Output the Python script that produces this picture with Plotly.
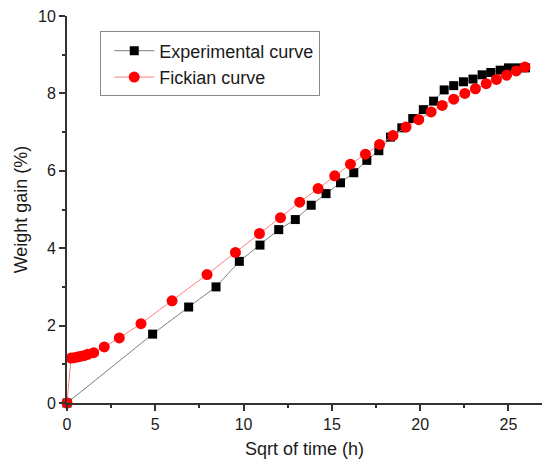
import plotly.graph_objects as go

# Experimental weight-gain data
exp_x = [0, 4.85, 6.89, 8.44, 9.76, 10.93, 11.99, 12.93, 13.83, 14.67, 15.49, 16.24,
         16.98, 17.66, 18.32, 18.96, 19.58, 20.18, 20.76, 21.36, 21.9, 22.45, 22.99,
         23.51, 24.0, 24.53, 25.0, 25.5, 25.97]
exp_y = [0, 1.78, 2.48, 3.0, 3.66, 4.08, 4.48, 4.74, 5.11, 5.41, 5.69, 5.95,
         6.27, 6.52, 6.87, 7.11, 7.35, 7.58, 7.80, 8.09, 8.20, 8.30, 8.37,
         8.48, 8.54, 8.60, 8.66, 8.66, 8.66]

# Fickian model curve
fick_x = [0, 0.23, 0.41, 0.6, 0.79, 1.0, 1.17, 1.51, 2.11, 2.96, 4.19, 5.95, 7.93,
          9.54, 10.9, 12.09, 13.18, 14.22, 15.16, 16.05, 16.9, 17.7, 18.46, 19.2,
          19.92, 20.62, 21.25, 21.9, 22.53, 23.13, 23.74, 24.32, 24.89, 25.44, 25.93]
fick_y = [0, 1.16, 1.17, 1.19, 1.21, 1.23, 1.26, 1.30, 1.45, 1.68, 2.05, 2.64, 3.32,
          3.89, 4.38, 4.79, 5.19, 5.54, 5.87, 6.17, 6.43, 6.68, 6.91, 7.13,
          7.32, 7.52, 7.69, 7.85, 8.0, 8.12, 8.25, 8.36, 8.47, 8.58, 8.68]

FONT = "Liberation Sans, Arial, sans-serif"
TEXT = "#1a1a1a"
AXIS = "#333333"

fig = go.Figure()
fig.add_trace(go.Scatter(
    x=exp_x, y=exp_y, mode="lines+markers", name="Experimental curve",
    line=dict(color="#7f7f7f", width=1),
    marker=dict(symbol="square", size=9, color="black"),
    cliponaxis=False,
))
fig.add_trace(go.Scatter(
    x=fick_x, y=fick_y, mode="lines+markers", name="Fickian curve",
    line=dict(color="#ff8080", width=1),
    marker=dict(symbol="circle", size=11, color="red"),
    cliponaxis=False,
))

axis_common = dict(
    showgrid=False, zeroline=False, showline=True, linecolor=AXIS, linewidth=2,
    ticks="outside", ticklen=6, tickwidth=2, tickcolor=AXIS,
    tickfont=dict(family=FONT, size=16, color=TEXT),
)

fig.update_xaxes(
    range=[0, 26.9], tickvals=[0, 5, 10, 15, 20, 25],
    minor=dict(ticks="outside", ticklen=3, tickwidth=2, tickcolor=AXIS, dtick=2.5, tick0=0),
    title=dict(text="Sqrt of time (h)", font=dict(family=FONT, size=18, color=TEXT), standoff=10),
    **axis_common,
)
fig.update_yaxes(
    range=[0, 10], tickvals=[0, 2, 4, 6, 8, 10],
    minor=dict(ticks="outside", ticklen=3, tickwidth=2, tickcolor=AXIS, dtick=1, tick0=0),
    title=dict(text="Weight gain (%)", font=dict(family=FONT, size=18, color=TEXT), standoff=6),
    **axis_common,
)

fig.update_layout(
    width=542, height=463,
    margin=dict(l=67, r=0, t=16, b=60),
    plot_bgcolor="white", paper_bgcolor="white",
    legend=dict(
        x=0.07, y=0.96, xanchor="left", yanchor="top",
        bordercolor="#888888", borderwidth=1, bgcolor="white",
        font=dict(family=FONT, size=18, color=TEXT),
        tracegroupgap=0, itemwidth=40, indentation=8,
    ),
    showlegend=True,
)

fig.write_html("out.html")
